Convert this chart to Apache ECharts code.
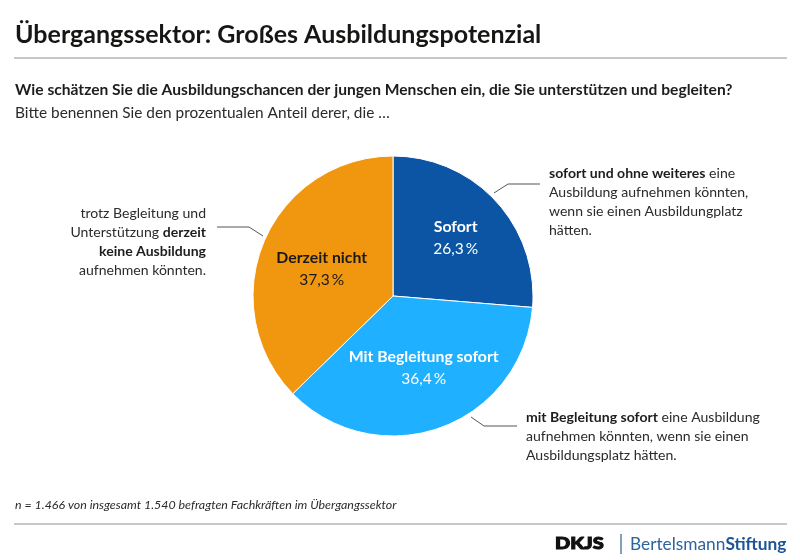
<!DOCTYPE html>
<html>
<head>
<meta charset="utf-8">
<style>
  html, body { margin: 0; padding: 0; background: #fff; }
  #chart { width: 800px; height: 560px; }
</style>
<script src="https://cdn.jsdelivr.net/npm/echarts@6/dist/echarts.min.js"></script>
</head>
<body>
<div id="chart"></div>
<script>
const categories = ['Sofort', 'Mit Begleitung sofort', 'Derzeit nicht'];
const values = [26.3, 36.4, 37.3];
const colors = ['#0b55a4', '#1fb0ff', '#f0960f'];
const labelColors = ['#ffffff', '#ffffff', '#1a1a1a'];
const labelOffsets = [[9, -9], [6, 3], [-4, 1]];

const titleText = 'Übergangssektor: Großes Ausbildungspotenzial';
const questionText = 'Wie schätzen Sie die Ausbildungschancen der jungen Menschen ein, die Sie unterstützen und begleiten?';
const subText = 'Bitte benennen Sie den prozentualen Anteil derer, die …';
const noteText = 'n = 1.466 von insgesamt 1.540 befragten Fachkräften im Übergangssektor';

const fontName = 'Lato';
const textColor = '#1d1d1b';
const ruleColor = '#b4b4b4';
const leaderColor = '#555555';

function fmt(v) {
  return v.toFixed(1).replace('.', ',') + '\u2009%';
}

// callout text, one real text element with rich parts
function callout(x, y, align, text) {
  return {
    type: 'text',
    x: x,
    y: y,
    silent: true,
    style: {
      text: text,
      align: align,
      verticalAlign: 'top',
      fontFamily: fontName,
      fontSize: 14.05,
      lineHeight: 19,
      fill: '#2b2b2b',
      rich: {
        b: { fontFamily: fontName, fontSize: 14.05, lineHeight: 19, fontWeight: 700, fill: textColor }
      }
    }
  };
}

function leader(points) {
  return {
    type: 'polyline',
    silent: true,
    shape: { points: points },
    style: { fill: 'none', stroke: leaderColor, lineWidth: 1 }
  };
}

function rule(y) {
  return {
    type: 'line',
    silent: true,
    shape: { x1: 14, y1: y, x2: 787, y2: y },
    style: { stroke: ruleColor, lineWidth: 1.4 }
  };
}

function plainText(x, y, text, size, weight, extra) {
  return {
    type: 'text',
    x: x,
    y: y,
    silent: true,
    style: Object.assign({
      text: text,
      fontFamily: fontName,
      fontSize: size,
      fontWeight: weight,
      fill: textColor,
      verticalAlign: 'middle'
    }, extra || {})
  };
}

const chart = echarts.init(document.getElementById('chart'), null, { renderer: 'canvas' });

chart.setOption({
  animation: false,
  backgroundColor: '#ffffff',
  series: [{
    type: 'pie',
    center: [393, 296],
    radius: [0, 140],
    startAngle: 90,
    clockwise: true,
    silent: true,
    data: categories.map((name, i) => ({
      name: name,
      value: values[i],
      itemStyle: { color: colors[i] },
      label: { color: labelColors[i], offset: labelOffsets[i] }
    })),
    itemStyle: { borderColor: '#ffffff', borderWidth: 1 },
    labelLine: { show: false },
    label: {
      show: true,
      position: 'inside',
      fontFamily: fontName,
      formatter: p => '{n|' + p.name + '}\n{v|' + fmt(p.value) + '}',
      rich: {
        n: { fontFamily: fontName, fontSize: 15.8, fontWeight: 700, lineHeight: 22 },
        v: { fontFamily: fontName, fontSize: 15.5, lineHeight: 22 }
      }
    }
  }],
  graphic: { elements: [
    plainText(15, 35, titleText, 25, 700, { fill: '#161615' }),
    rule(58),
    plainText(15, 90, questionText, 15.6, 700),
    plainText(15, 113, subText, 15.4, 400, { fill: '#2b2b2b' }),

    callout(206, 204, 'right', 'trotz Begleitung und\nUnterstützung {b|derzeit}\n{b|keine Ausbildung}\naufnehmen könnten.'),
    leader([[217, 227], [249, 227], [263, 236]]),

    callout(549, 164, 'left', '{b|sofort und ohne weiteres} eine\nAusbildung aufnehmen könnten,\nwenn sie einen Ausbildungplatz\nhätten.'),
    leader([[540, 184], [508, 184], [494, 193]]),

    callout(526, 408, 'left', '{b|mit Begleitung sofort} eine Ausbildung\naufnehmen könnten, wenn sie einen\nAusbildungsplatz hätten.'),
    leader([[517, 426], [484, 426], [471, 417]]),

    plainText(15, 505, noteText, 12.4, 400, { fontStyle: 'italic', fill: '#2b2b2b' }),
    rule(524),

    {
      type: 'text',
      x: 555,
      y: 544,
      scaleX: 1.25,
      silent: true,
      style: {
        text: 'DKJS',
        fontFamily: fontName,
        fontSize: 16,
        fontWeight: 900,
        fill: '#111111',
        stroke: '#111111',
        lineWidth: 1,
        verticalAlign: 'middle'
      }
    },
    {
      type: 'line',
      silent: true,
      shape: { x1: 621, y1: 534, x2: 621, y2: 554 },
      style: { stroke: '#2f5f9e', lineWidth: 1.2 }
    },
    plainText(630, 544, '{a|Bertelsmann}{c|Stiftung}', 17.3, 400, {
      rich: {
        a: { fontFamily: fontName, fontSize: 17.3, fill: '#2f639f' },
        c: { fontFamily: fontName, fontSize: 17.3, fontWeight: 700, fill: '#1d5496' }
      }
    })
  ] }
});
</script>
</body>
</html>
